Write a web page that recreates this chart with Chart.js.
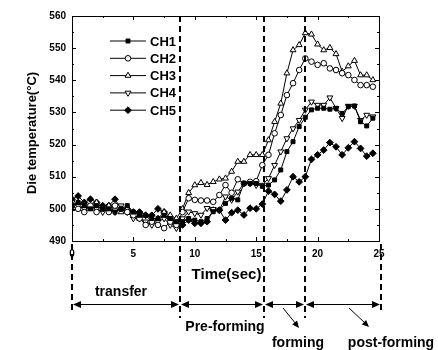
<!DOCTYPE html>
<html>
<head>
<meta charset="utf-8">
<script src="https://cdn.jsdelivr.net/npm/chart.js@4.4.0/dist/chart.umd.min.js"></script>
<style>
    html, body { margin: 0; padding: 0; background: #fff; }
</style>
</head>
<body>
<canvas id="dieTempChart" width="438" height="350"></canvas>
<script>
// Time axis (sec)
var times = [0, 0.5, 1, 1.5, 2, 2.5, 3, 3.5, 4, 4.5, 5, 5.5, 6, 6.5, 7, 7.5, 8, 8.5,
    9, 9.5, 10, 10.5, 11, 11.5, 12, 12.5, 13, 13.5, 14, 14.5, 15, 15.5, 16, 16.5,
    17, 17.5, 18, 18.5, 19, 19.5, 20, 20.5, 21, 21.5, 22, 22.5, 23, 23.5, 24, 24.5];

// Die temperature per channel (°C)
var ch1 = [501, 502, 501, 500, 501, 500, 500, 499, 500, 501, 499, 498, 498, 497, 497, 498, 497, 496,
    496, 497, 496.5, 496, 497, 499.1, 499.6, 501.7, 503.3, 502.8, 507.9, 507.9, 507.9, 507, 507.4, 509,
    512.1, 517.8, 520.9, 525.6, 528.5, 530.8, 531.3, 531.3, 531, 531.3, 529.7, 531.8, 532, 527.1, 525.8, 528.2];
var ch2 = [501, 500, 499, 501, 499, 500, 499, 501, 500, 499, 498, 497, 495, 496, 495, 494, 496, 495,
    499, 503.3, 502.8, 502.6, 502.6, 502.2, 504.3, 507.4, 505, 509.2, 507.9, 508.4, 508.6, 513.6, 516.8, 523.5,
    529.2, 535.4, 539.1, 543.2, 546.8, 545.8, 544.8, 545.3, 543.7, 543.2, 542.2, 541.6, 540.1, 538.5, 538.5, 538];
var ch3 = [500, 502, 501, 500, 502, 500, 501, 500, 499, 500, 498, 497, 498, 496, 497, 499, 498, 497,
    500, 505, 507.4, 508.1, 507.5, 508.4, 509.2, 509.5, 511.6, 514.7, 514.7, 516.8, 516.8, 516.8, 521.4, 527.1,
    532.8, 542.2, 549.4, 551, 554.7, 554.3, 551.2, 549.4, 550.1, 548.2, 542.7, 544.4, 546.1, 541.6, 541.6, 540.1];
var ch4 = [502, 501, 500, 501, 500, 499, 500, 499, 501, 499, 497, 497, 496, 495, 496, 497, 495, 494,
    497, 499.1, 498.6, 498.1, 500.2, 499.9, 499.5, 503.8, 502.8, 505.3, 507.9, 507.9, 507.4, 507.4, 509.5, 513.6,
    517.8, 521.9, 525, 527.6, 530.8, 533.3, 532.3, 532.3, 534.6, 531.3, 528.2, 532, 532, 527.6, 529.2, 528.7];
var ch5 = [503, 504, 502, 503, 502, 501, 501, 503, 500, 500, 499, 499, 498, 498, 500, 499, 497, 496,
    495, 496.5, 495.5, 495.5, 496, 499.6, 499.6, 496.5, 498.8, 499.6, 498.1, 500.2, 500, 501.5, 505.5, 504.5,
    502.4, 505.9, 510, 508.4, 510, 515.4, 516.8, 518.3, 520.6, 519.3, 516.8, 519, 520.9, 518.8, 516.4, 517.3];

var channelLabels = ['CH1', 'CH2', 'CH3', 'CH4', 'CH5'];

// Process stages, boundaries in seconds
var phaseBounds = [0, 8.8, 15.6, 19.0, 25.2];
var phaseLabels = ['transfer', 'Pre-forming', 'forming', 'post-forming'];

var yTicks = [490, 500, 510, 520, 530, 540, 550, 560];
var xTicks = [0, 5, 10, 15, 20, 25];

var markers = [
    { style: 'rect', rot: 0, r: 2.8, fill: '#000' },
    { style: 'circle', rot: 0, r: 2.8, fill: '#fff' },
    { style: 'triangle', rot: 0, r: 3.4, fill: '#fff' },
    { style: 'triangle', rot: 180, r: 3.4, fill: '#fff' },
    { style: 'rectRot', rot: 0, r: 3.4, fill: '#000' }
];

function toPoints(vals) {
    return vals.map(function (v, i) { return { x: times[i], y: v }; });
}

var datasets = [ch1, ch2, ch3, ch4, ch5].map(function (vals, i) {
    var m = markers[i];
    return {
        label: channelLabels[i],
        data: toPoints(vals),
        borderColor: '#000',
        borderWidth: 1,
        pointStyle: m.style,
        pointRotation: m.rot,
        pointRadius: m.r,
        pointBackgroundColor: m.fill,
        pointBorderColor: '#000',
        pointBorderWidth: 1,
        tension: 0,
        fill: false
    };
});

function line(ctx, x1, y1, x2, y2) {
    ctx.beginPath();
    ctx.moveTo(x1, y1);
    ctx.lineTo(x2, y2);
    ctx.stroke();
}

function arrowHead(ctx, x, y, angle, size) {
    ctx.save();
    ctx.translate(x, y);
    ctx.rotate(angle);
    ctx.beginPath();
    ctx.moveTo(0, 0);
    ctx.lineTo(-size, -size * 0.45);
    ctx.lineTo(-size, size * 0.45);
    ctx.closePath();
    ctx.fill();
    ctx.restore();
}

// frame, inward ticks, stage markers, legend and texts
var decorPlugin = {
    id: 'decor',
    afterDatasetsDraw: function (chart) {
        var ctx = chart.ctx, a = chart.chartArea;
        var xs = chart.scales.x, ys = chart.scales.y;
        ctx.save();
        ctx.strokeStyle = '#000';
        ctx.fillStyle = '#000';
        ctx.lineWidth = 1;
        ctx.strokeRect(a.left + 0.5, a.top + 0.5, a.right - a.left, a.bottom - a.top);

        // y ticks (major + minor) on both sides
        for (var i = 0; i < yTicks.length; i++) {
            var y = Math.round(ys.getPixelForValue(yTicks[i])) + 0.5;
            line(ctx, a.left, y, a.left + 4, y);
            line(ctx, a.right, y, a.right - 4, y);
            if (i < yTicks.length - 1) {
                var ym = Math.round(ys.getPixelForValue((yTicks[i] + yTicks[i + 1]) / 2)) + 0.5;
                line(ctx, a.left, ym, a.left + 2, ym);
                line(ctx, a.right, ym, a.right - 2, ym);
            }
        }
        for (var j = 0; j < xTicks.length; j++) {
            var x = Math.round(xs.getPixelForValue(xTicks[j])) + 0.5;
            line(ctx, x, a.bottom, x, a.bottom - 4);
            line(ctx, x, a.top, x, a.top + 4);
            if (j < xTicks.length - 1) {
                var xm = Math.round(xs.getPixelForValue((xTicks[j] + xTicks[j + 1]) / 2)) + 0.5;
                line(ctx, xm, a.bottom, xm, a.bottom - 2);
                line(ctx, xm, a.top, xm, a.top + 2);
            }
        }

        // dashed stage boundaries
        ctx.lineWidth = 2;
        ctx.setLineDash([6, 4]);
        var bx = phaseBounds.map(function (t) { return Math.round(xs.getPixelForValue(t)); });
        for (var k = 0; k < bx.length; k++) {
            var inner = k > 0 && k < bx.length - 1;
            line(ctx, bx[k], inner ? a.top : a.bottom + 3, bx[k], inner ? 318 : 314);
        }
        ctx.setLineDash([]);

        // double arrows between boundaries
        ctx.lineWidth = 1;
        var ay = 304.5;
        for (var p = 0; p < bx.length - 1; p++) {
            var x0 = bx[p] + 1, x1 = bx[p + 1] - 1;
            line(ctx, x0 + 4, ay, x1 - 4, ay);
            arrowHead(ctx, x0, ay, Math.PI, 8);
            arrowHead(ctx, x1, ay, 0, 8);
        }
        // pointer arrows for the short stages
        line(ctx, 283, 308, 296, 324);
        arrowHead(ctx, 299, 328, Math.atan2(20, 16), 7);
        line(ctx, 349, 308, 365, 323);
        arrowHead(ctx, 369, 327, Math.atan2(19, 20), 7);

        // texts
        ctx.textAlign = 'center';
        ctx.textBaseline = 'middle';
        ctx.font = 'bold 15px "Liberation Sans", Arial, sans-serif';
        ctx.fillText('Time(sec)', (a.left + a.right) / 2 + 1, 275);
        ctx.font = 'bold 14px "Liberation Sans", Arial, sans-serif';
        ctx.fillText(phaseLabels[0], 121, 292);
        ctx.fillText(phaseLabels[1], 225, 327);
        ctx.fillText(phaseLabels[2], 298, 343);
        ctx.fillText(phaseLabels[3], 391, 343);

        ctx.save();
        ctx.translate(32, 133);
        ctx.rotate(-Math.PI / 2);
        ctx.font = 'bold 13px "Liberation Sans", Arial, sans-serif';
        ctx.fillText('Die temperature(°C)', 0, 0);
        ctx.restore();

        // legend inside the plot
        ctx.textAlign = 'left';
        ctx.font = 'bold 13px "Liberation Sans", Arial, sans-serif';
        chart.data.datasets.forEach(function (ds, i) {
            var ly = 41 + i * 17.3;
            ctx.strokeStyle = '#000';
            ctx.lineWidth = 1;
            line(ctx, 110, ly, 146, ly);
            ctx.fillStyle = ds.pointBackgroundColor;
            Chart.helpers.drawPoint(ctx, {
                pointStyle: ds.pointStyle,
                rotation: ds.pointRotation,
                radius: ds.pointRadius,
                borderWidth: 1
            }, 128, ly);
            ctx.fillStyle = '#000';
            ctx.fillText(ds.label, 150, ly + 1);
        });
        ctx.restore();
    }
};

var ctx = document.getElementById('dieTempChart').getContext('2d');
var dieTempChart = new Chart(ctx, {
    type: 'line',
    data: { datasets: datasets },
    options: {
        responsive: false,
        animation: false,
        layout: { padding: { top: 16, right: 59, left: 0, bottom: 0 } },
        plugins: {
            legend: { display: false },
            tooltip: { enabled: false }
        },
        scales: {
            x: {
                type: 'linear',
                min: 0,
                max: 25,
                grid: { display: false, drawTicks: false },
                border: { display: false },
                afterFit: function (scale) { scale.height = 109; },
                afterBuildTicks: function (scale) {
                    scale.ticks = xTicks.map(function (v) { return { value: v }; });
                },
                ticks: {
                    color: '#000',
                    padding: 7,
                    maxRotation: 0,
                    autoSkip: false,
                    font: { family: '"Liberation Sans", Arial, sans-serif', size: 10, weight: 'bold' }
                }
            },
            y: {
                min: 490,
                max: 560,
                grid: { display: false, drawTicks: false },
                border: { display: false },
                afterFit: function (scale) { scale.width = 72; },
                afterBuildTicks: function (scale) {
                    scale.ticks = yTicks.map(function (v) { return { value: v }; });
                },
                ticks: {
                    color: '#000',
                    padding: 6,
                    font: { family: '"Liberation Sans", Arial, sans-serif', size: 10, weight: 'bold' }
                }
            }
        }
    },
    plugins: [decorPlugin]
});
</script>
</body>
</html>
